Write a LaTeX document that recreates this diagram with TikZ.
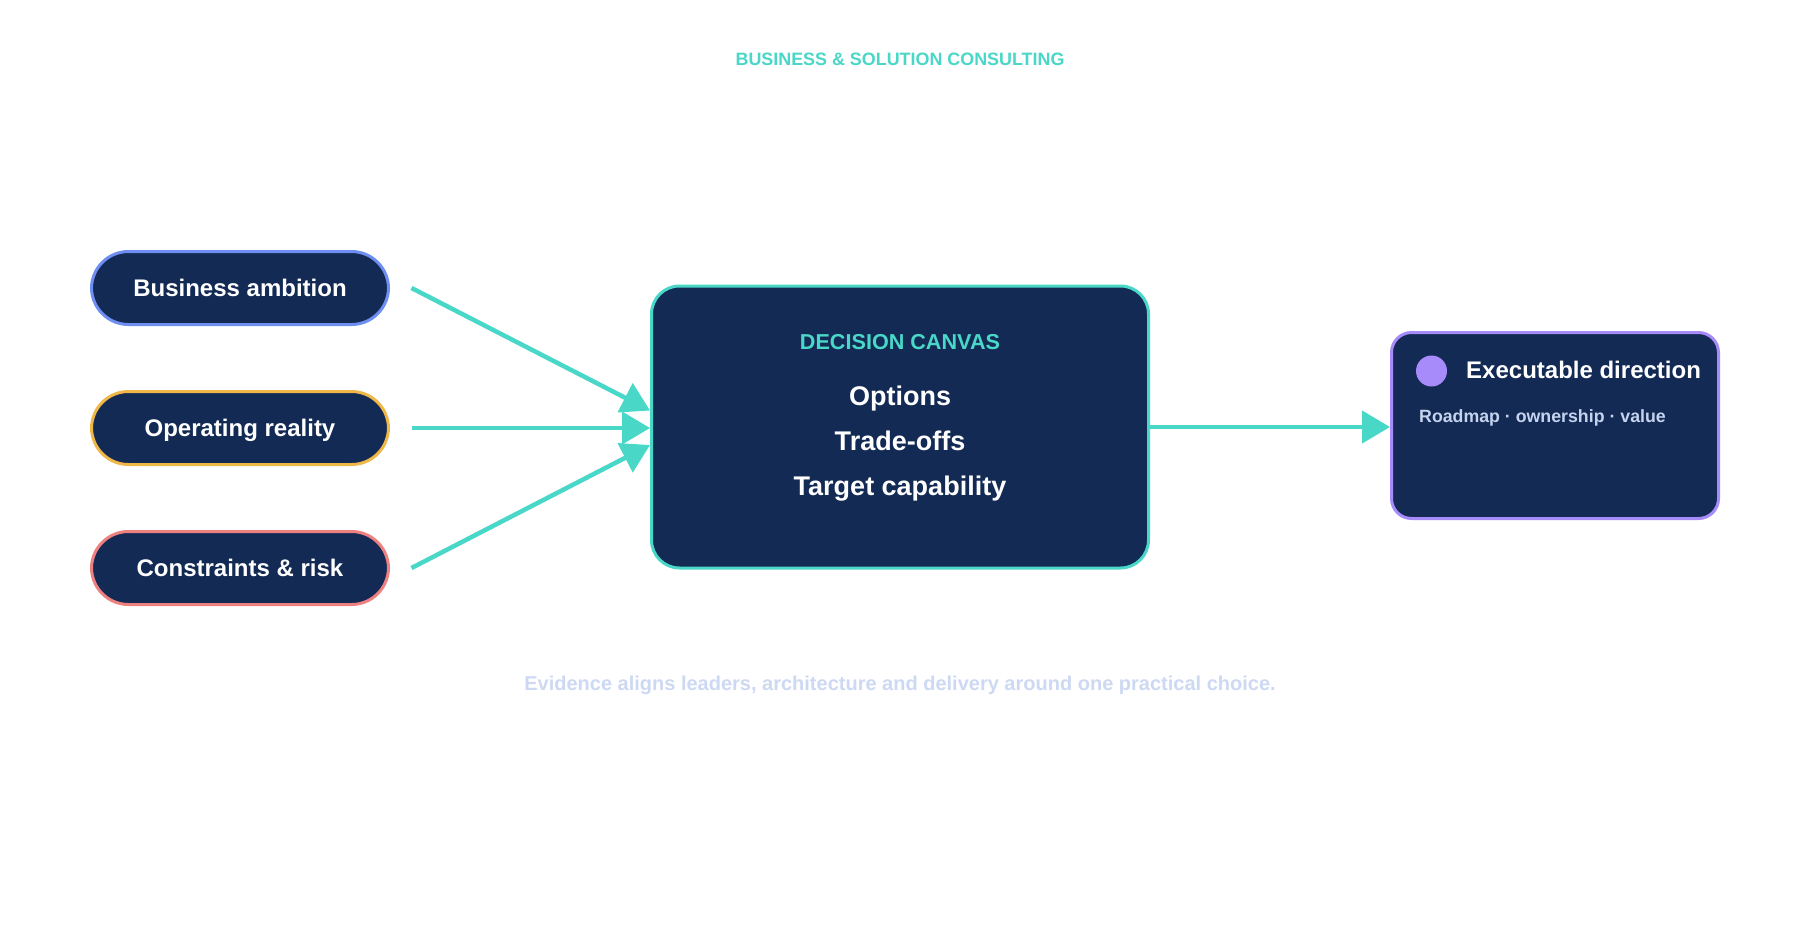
\documentclass[tikz,border=0pt]{standalone}
\usepackage{fontspec}
\setmainfont{Liberation Sans}
\usetikzlibrary{arrows.meta,calc}
\definecolor{cnavy}{HTML}{132A55}
\definecolor{cteal}{HTML}{49D7C8}
\definecolor{cblue}{HTML}{6E8EF2}
\definecolor{cyellow}{HTML}{EFB648}
\definecolor{cred}{HTML}{EE8080}
\definecolor{cpurple}{HTML}{A78BFA}
\definecolor{ccap}{HTML}{CDD9F3}
\definecolor{csub}{HTML}{C5D3EE}
\begin{document}
\begin{tikzpicture}[x=1pt,y=-1pt,
  pill/.style={draw, line width=3pt, fill=cnavy, rounded corners=37pt,
    minimum width=297pt, minimum height=73pt, inner sep=0pt,
    text=white, font=\fontsize{24}{28}\selectfont\bfseries,
    text height=17.2pt, text depth=0pt},
  canvasbox/.style={draw=cteal, line width=3pt, fill=cnavy, rounded corners=28pt,
    minimum width=497pt, minimum height=282pt, inner sep=0pt},
  outbox/.style={draw=cpurple, line width=3pt, fill=cnavy, rounded corners=20pt,
    minimum width=327pt, minimum height=186pt, inner sep=0pt},
  bigtxt/.style={text=white, font=\fontsize{27}{32}\selectfont\bfseries, anchor=base, inner sep=0pt},
  flow/.style={draw=cteal, line width=4.5pt, -{Triangle[length=28pt,width=32pt]}},
]
\useasboundingbox (0,0) rectangle (1800,940);
\fill[white] (0,0) rectangle (1800,940);

\node[text=cteal, font=\fontsize{17.9}{20}\selectfont\bfseries, anchor=base, inner sep=0pt]
  (title) at (900,65) {BUSINESS \& SOLUTION CONSULTING};

\node[pill, draw=cblue] (amb) at (240,288) {Business ambition};
\node[pill, draw=cyellow] (ops) at (240,428) {Operating reality};
\node[pill, draw=cred] (con) at (240,568) {Constraints \& risk};

\node[canvasbox] (canvas) at (900,427) {};
\node[text=cteal, font=\fontsize{21.6}{24}\selectfont\bfseries, anchor=base, inner sep=0pt]
  (dc) at (900,349.5) {DECISION CANVAS};
\node[bigtxt] (opt) at (900,405) {Options};
\node[bigtxt] (tr) at (900,450) {Trade-offs};
\node[bigtxt] (tc) at (900,495) {Target capability};

\node[outbox] (out) at (1555,425.5) {};
\node[circle, fill=cpurple, minimum size=31pt, inner sep=0pt] (dot) at (1431.5,371) {};
\node[anchor=west, inner sep=0pt, text=white, font=\fontsize{24}{28}\selectfont\bfseries,
  text height=17.2pt, text depth=0pt] (ed) at (1466,370) {Executable direction};
\node[anchor=west, inner sep=0pt, text=csub, font=\fontsize{17.75}{20}\selectfont\bfseries,
  text height=12.7pt, text depth=0pt] (rm) at (1419,416) {Roadmap · ownership · value};

\coordinate (s1) at ($(amb.east)+(21.5,0)$);
\coordinate (s2) at ($(ops.east)+(21.5,0)$);
\coordinate (s3) at ($(con.east)+(21.5,0)$);
\coordinate (t1) at ($(canvas.west)+(0,-16.5)$);
\coordinate (t2) at ($(canvas.west)+(0,1)$);
\coordinate (t3) at ($(canvas.west)+(0,18)$);
\draw[flow] (s1) -- (t1);
\draw[flow] (s2) -- (t2);
\draw[flow] (s3) -- (t3);
\draw[flow] (canvas.east) -- (canvas.east -| out.west);

\node[text=ccap, font=\fontsize{20}{23}\selectfont\bfseries, anchor=base, inner sep=0pt]
  (cap) at (900,690) {Evidence aligns leaders, architecture and delivery around one practical choice.};
\end{tikzpicture}
\end{document}
